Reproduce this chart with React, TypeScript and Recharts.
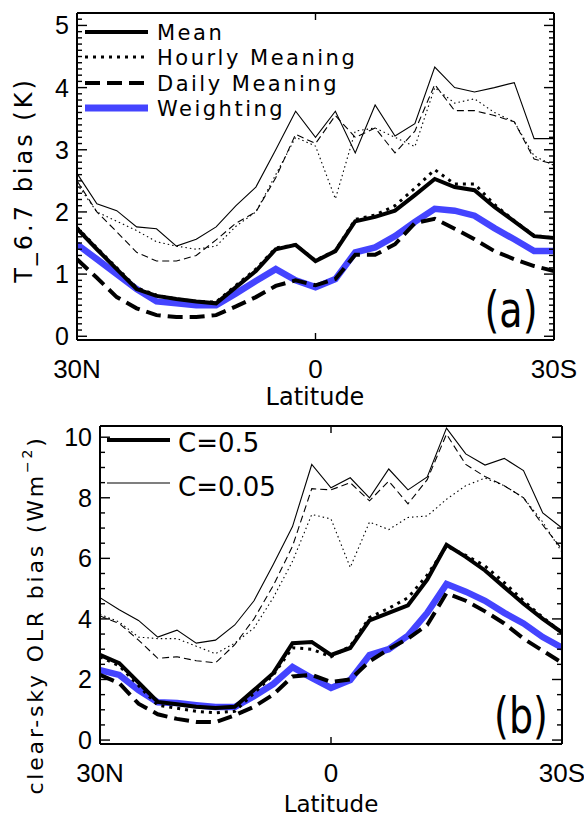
import React from 'react';
import { LineChart, Line, XAxis, YAxis } from 'recharts';

// latitude grid, 30N (left) to 30S (right)
const LAT = [30, 27.5, 25, 22.5, 20, 17.5, 15, 12.5, 10, 7.5, 5, 2.5, 0, -2.5, -5, -7.5, -10, -12.5, -15, -17.5, -20, -22.5, -25, -27.5, -30];

// (a) T_6.7 bias (K)
const A_MEAN_05 = [1.73, 1.40, 1.08, 0.76, 0.65, 0.60, 0.56, 0.53, 0.79, 1.05, 1.40, 1.47, 1.21, 1.37, 1.85, 1.92, 2.02, 2.27, 2.53, 2.40, 2.35, 2.08, 1.85, 1.61, 1.58];
const A_HOURLY_05 = [1.75, 1.42, 1.10, 0.78, 0.66, 0.60, 0.56, 0.55, 0.82, 1.08, 1.42, 1.47, 1.22, 1.38, 1.88, 1.95, 2.10, 2.38, 2.68, 2.45, 2.45, 2.12, 1.86, 1.62, 1.58];
const A_DAILY_05 = [1.24, 0.94, 0.63, 0.45, 0.34, 0.31, 0.31, 0.34, 0.48, 0.63, 0.81, 0.90, 0.82, 0.92, 1.31, 1.31, 1.48, 1.82, 1.89, 1.73, 1.56, 1.37, 1.24, 1.13, 1.05];
const A_WEIGHT_05 = [1.48, 1.24, 1.00, 0.76, 0.56, 0.53, 0.50, 0.50, 0.69, 0.89, 1.08, 0.90, 0.79, 0.92, 1.35, 1.43, 1.61, 1.84, 2.05, 2.02, 1.94, 1.74, 1.56, 1.37, 1.37];
const A_MEAN_005 = [2.62, 2.13, 2.02, 1.76, 1.73, 1.45, 1.56, 1.76, 2.10, 2.40, 3.00, 3.62, 3.20, 3.62, 2.95, 3.72, 3.22, 3.42, 4.33, 4.00, 3.93, 4.00, 4.08, 3.18, 3.18];
const A_HOURLY_005 = [2.45, 2.00, 1.85, 1.70, 1.52, 1.45, 1.40, 1.45, 1.77, 2.00, 2.60, 3.20, 3.06, 2.21, 3.30, 3.35, 3.20, 3.05, 4.00, 3.75, 3.82, 3.60, 3.45, 2.90, 2.75];
const A_DAILY_005 = [2.50, 2.00, 1.68, 1.35, 1.21, 1.21, 1.30, 1.55, 1.82, 2.00, 2.55, 3.25, 3.10, 3.55, 3.20, 3.35, 2.95, 3.30, 4.05, 3.63, 3.63, 3.55, 3.45, 2.85, 2.77];

// (b) clear-sky OLR bias (Wm-2)
const B_MEAN_05 = [2.81, 2.54, 1.90, 1.26, 1.18, 1.10, 1.06, 1.10, 1.65, 2.21, 3.20, 3.24, 2.81, 3.04, 3.95, 4.20, 4.45, 5.30, 6.45, 6.05, 5.60, 5.05, 4.50, 4.00, 3.55];
const B_HOURLY_05 = [2.75, 2.45, 1.80, 1.15, 1.05, 0.95, 0.90, 0.95, 1.55, 2.15, 3.05, 3.00, 2.75, 3.10, 4.05, 4.35, 4.70, 5.45, 6.40, 6.10, 5.75, 5.20, 4.60, 4.05, 3.55];
const B_DAILY_05 = [2.15, 1.88, 1.20, 0.85, 0.70, 0.60, 0.59, 0.82, 1.10, 1.50, 2.10, 2.15, 1.92, 2.00, 2.60, 3.00, 3.35, 3.80, 4.85, 4.60, 4.25, 3.85, 3.35, 2.95, 2.55];
const B_WEIGHT_05 = [2.31, 2.15, 1.65, 1.25, 1.22, 1.15, 1.09, 1.09, 1.45, 1.85, 2.41, 2.05, 1.72, 1.98, 2.81, 3.00, 3.45, 4.20, 5.15, 4.90, 4.60, 4.20, 3.85, 3.40, 3.05];
const B_MEAN_005 = [4.70, 4.30, 3.95, 3.40, 3.63, 3.20, 3.30, 3.80, 4.60, 5.80, 7.05, 9.10, 8.33, 8.66, 8.00, 8.95, 8.26, 8.69, 10.30, 9.45, 9.08, 9.30, 8.90, 7.50, 7.00];
const B_HOURLY_005 = [4.15, 3.90, 3.40, 3.35, 3.35, 3.10, 2.85, 3.20, 3.70, 4.70, 5.90, 7.45, 7.30, 5.70, 7.20, 6.95, 7.35, 7.40, 7.95, 8.40, 8.65, 8.40, 8.00, 7.20, 6.20];
const B_DAILY_005 = [4.10, 3.85, 3.30, 2.70, 2.75, 2.62, 2.55, 3.15, 4.00, 5.10, 6.40, 8.30, 8.26, 8.50, 7.90, 8.55, 7.80, 8.60, 10.10, 9.10, 8.70, 8.40, 8.00, 7.10, 6.30];

const X_TICKS = [30, 0, -30];
const A_Y_LABELS = [0, 1, 2, 3, 4, 5];
const A_Y_TICKS = Array.from({ length: 53 }, (_, i) => i / 10);
const B_Y_LABELS = [0, 2, 4, 6, 8, 10];
const B_Y_TICKS = Array.from({ length: 21 }, (_, i) => i / 2);

const BLUE = '#4444ff';
const FONT = '"DejaVu Sans", sans-serif';
const TICK_FONT = '"Liberation Sans", Arial, sans-serif';

// draw order: thin lines first, thick dashed on top
const STYLES = [
  { key: 'mean005', color: '#000', width: 1.1, dash: undefined },
  { key: 'hourly005', color: '#000', width: 1.1, dash: '1.5 3' },
  { key: 'daily005', color: '#000', width: 1.1, dash: '7 4' },
  { key: 'weight05', color: BLUE, width: 6.5, dash: undefined },
  { key: 'mean05', color: '#000', width: 4, dash: undefined },
  { key: 'hourly05', color: '#000', width: 3, dash: '3 5' },
  { key: 'daily05', color: '#000', width: 4, dash: '15 7' },
];

const rowsA = LAT.map((lat, i) => ({
  lat,
  mean05: A_MEAN_05[i], hourly05: A_HOURLY_05[i], daily05: A_DAILY_05[i], weight05: A_WEIGHT_05[i],
  mean005: A_MEAN_005[i], hourly005: A_HOURLY_005[i], daily005: A_DAILY_005[i],
}));

const rowsB = LAT.map((lat, i) => ({
  lat,
  mean05: B_MEAN_05[i], hourly05: B_HOURLY_05[i], daily05: B_DAILY_05[i], weight05: B_WEIGHT_05[i],
  mean005: B_MEAN_005[i], hourly005: B_HOURLY_005[i], daily005: B_DAILY_005[i],
}));

// page-pixel boxes of the two plot areas
const PLOT_A = { left: 77, right: 554, top: 13, bottom: 340 };
const PLOT_B = { left: 100, right: 562, top: 426, bottom: 744 };

const isMajor = (v: number, majors: number[]) => majors.some((m) => Math.abs(m - v) < 1e-6);

function LeftTick(props: any) {
  const { x, y, payload, majors } = props;
  const major = isMajor(payload.value, majors);
  return (
    <g>
      <rect x={x} y={y - 0.7} width={major ? 10 : 5} height={1.4} fill="#000" />
      {major && (
        <text x={x - 8} y={y} textAnchor="end" dominantBaseline="central" fontSize={25} fontFamily={TICK_FONT} fill="#000">
          {Math.round(payload.value)}
        </text>
      )}
    </g>
  );
}

function RightTick(props: any) {
  const { x, y, payload, majors } = props;
  const len = isMajor(payload.value, majors) ? 10 : 5;
  return <rect x={x - len} y={y - 0.7} width={len} height={1.4} fill="#000" />;
}

function BottomTick(props: any) {
  const { x, y, payload } = props;
  const v = payload.value;
  const label = v > 0 ? `${v}N` : v < 0 ? `${-v}S` : '0';
  return (
    <g>
      {v === 0 && <rect x={x - 0.7} y={y - 7} width={1.4} height={7} fill="#000" />}
      <text x={x} y={y + 38} textAnchor="middle" fontSize={26} fontFamily={TICK_FONT} fill="#000">
        {label}
      </text>
    </g>
  );
}

function TopTick(props: any) {
  const { x, y } = props;
  return <rect x={x - 0.7} y={y} width={1.4} height={7} fill="#000" />;
}

type PanelProps = {
  rows: any[];
  top: number;
  height: number;
  plot: { left: number; right: number; top: number; bottom: number };
  yDomain: [number, number];
  yTicks: number[];
  yLabels: number[];
};

function Panel({ rows, top, height, plot, yDomain, yTicks, yLabels }: PanelProps) {
  const margin = {
    top: plot.top - top - 1,
    right: 584 - plot.right - 1,
    left: plot.left - 40,
    bottom: top + height - plot.bottom - 50,
  };
  return (
    <div style={{ position: 'relative', width: 584, height }}>
      <LineChart width={584} height={height} data={rows} margin={margin}>
        <XAxis
          xAxisId="b" dataKey="lat" type="number" domain={[-30, 30]} reversed allowDataOverflow
          ticks={X_TICKS} interval={0} height={50} tickSize={0} tickMargin={0} tickLine={false}
          stroke="#000" strokeWidth={2} tick={(p: any) => <BottomTick {...p} />}
        />
        <XAxis
          xAxisId="t" orientation="top" dataKey="lat" type="number" domain={[-30, 30]} reversed allowDataOverflow
          ticks={[0]} interval={0} height={1} tickSize={0} tickMargin={0} tickLine={false}
          stroke="#000" strokeWidth={2} tick={(p: any) => <TopTick {...p} />}
        />
        <YAxis
          yAxisId="l" type="number" domain={yDomain} allowDataOverflow ticks={yTicks} interval={0}
          width={40} tickSize={0} tickMargin={0} tickLine={false} stroke="#000" strokeWidth={2}
          tick={(p: any) => <LeftTick {...p} majors={yLabels} />}
        />
        <YAxis
          yAxisId="r" orientation="right" type="number" domain={yDomain} allowDataOverflow ticks={yTicks} interval={0}
          width={1} tickSize={0} tickMargin={0} tickLine={false} stroke="#000" strokeWidth={2}
          tick={(p: any) => <RightTick {...p} majors={yLabels} />}
        />
        {STYLES.map((s) => (
          <Line
            key={s.key}
            xAxisId="b"
            yAxisId="l"
            type="linear"
            dataKey={s.key}
            stroke={s.color}
            strokeWidth={s.width}
            strokeDasharray={s.dash}
            dot={false}
            isAnimationActive={false}
          />
        ))}
      </LineChart>
    </div>
  );
}

function Annotations() {
  const legendA = [
    { label: 'Mean', y: 32, color: '#000', width: 4, dash: undefined },
    { label: 'Hourly Meaning', y: 57, color: '#000', width: 3, dash: '3 5' },
    { label: 'Daily Meaning', y: 83, color: '#000', width: 4, dash: '15 7' },
    { label: 'Weighting', y: 108, color: BLUE, width: 7, dash: undefined },
  ];
  const legendB = [
    { label: 'C=0.5', y: 440, width: 4, base: 452 },
    { label: 'C=0.05', y: 483, width: 1.2, base: 496 },
  ];
  return (
    <svg width={584} height={819} style={{ position: 'absolute', left: 0, top: 0, pointerEvents: 'none' }}>
      {legendA.map((l) => (
        <g key={l.label}>
          <line x1={85} x2={148} y1={l.y} y2={l.y} stroke={l.color} strokeWidth={l.width} strokeDasharray={l.dash} />
          <text x={157} y={l.y + 8} fontSize={21} fontFamily={FONT} letterSpacing={2.5} fill="#000">
            {l.label}
          </text>
        </g>
      ))}
      {legendB.map((l) => (
        <g key={l.label}>
          <line x1={107} x2={170} y1={l.y} y2={l.y} stroke="#000" strokeWidth={l.width} />
          <text x={178} y={l.base} fontSize={26} fontFamily={FONT} fill="#000">
            {l.label}
          </text>
        </g>
      ))}

      <text
        x={24} y={180} transform="rotate(-90 24 180)" textAnchor="middle" dominantBaseline="central"
        fontSize={24} fontFamily={FONT} letterSpacing={3} fill="#000"
      >
        T_6.7 bias (K)
      </text>
      <text
        x={35} y={615} transform="rotate(-90 35 615)" textAnchor="middle" dominantBaseline="central"
        fontSize={22} fontFamily={FONT} letterSpacing={2.8} fill="#000"
      >
        clear-sky OLR bias (Wm<tspan dy={-8} fontSize={14}>−2</tspan><tspan dy={8}>)</tspan>
      </text>

      <text x={315} y={405} textAnchor="middle" fontSize={24} fontFamily={FONT} fill="#000">Latitude</text>
      <text x={331} y={812} textAnchor="middle" fontSize={23} fontFamily={FONT} fill="#000">Latitude</text>

      <text transform="translate(511 327) scale(1 1.3)" textAnchor="middle" fontSize={38} fontFamily={FONT} fill="#000">(a)</text>
      <text transform="translate(521 733) scale(1 1.3)" textAnchor="middle" fontSize={38} fontFamily={FONT} fill="#000">(b)</text>
    </svg>
  );
}

export default function App() {
  return (
    <div style={{ position: 'absolute', left: 0, top: 0, width: 584, height: 819, background: '#fff' }}>
      <Panel rows={rowsA} top={0} height={400} plot={PLOT_A} yDomain={[-0.06, 5.2]} yTicks={A_Y_TICKS} yLabels={A_Y_LABELS} />
      <Panel rows={rowsB} top={400} height={419} plot={PLOT_B} yDomain={[-0.13, 10.37]} yTicks={B_Y_TICKS} yLabels={B_Y_LABELS} />
      <Annotations />
    </div>
  );
}
